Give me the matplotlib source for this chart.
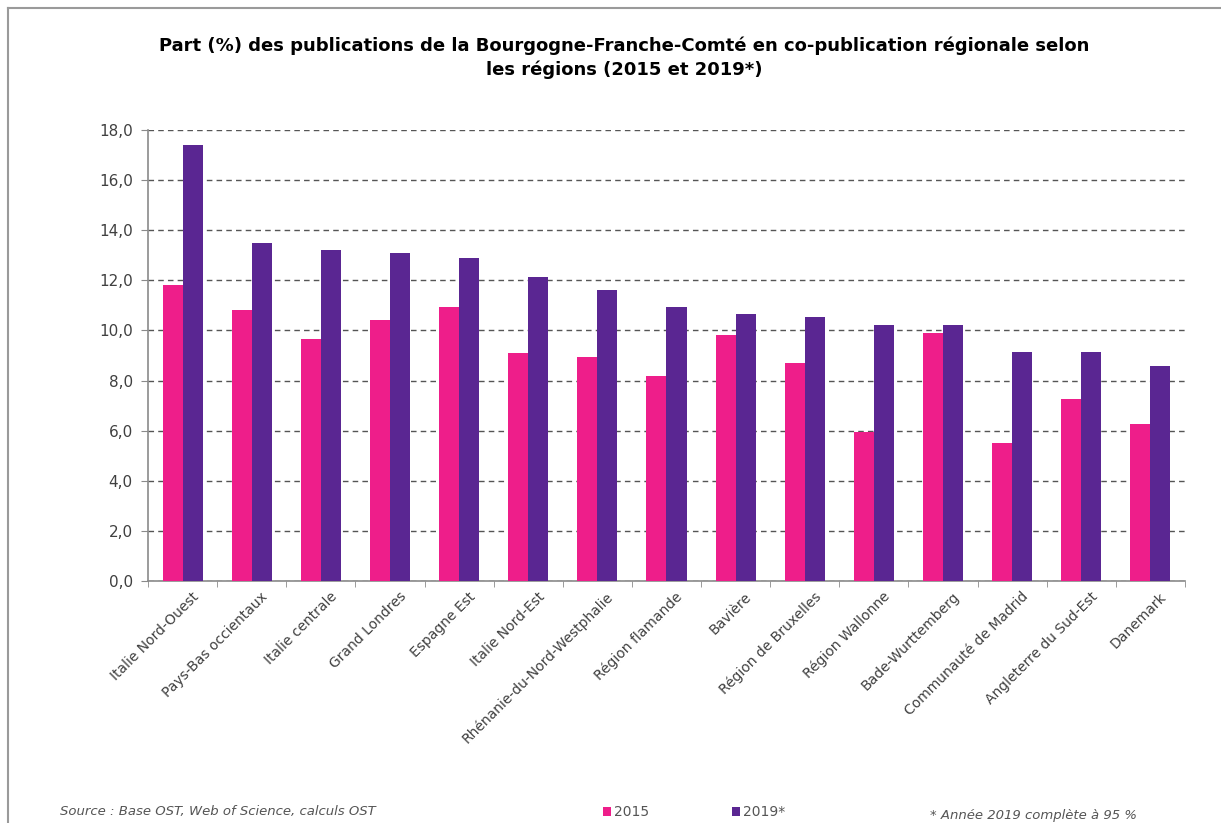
import numpy as np
import matplotlib.pyplot as plt
import matplotlib.transforms as mtransforms
from matplotlib.lines import Line2D

# data
regions = ["Italie Nord-Ouest", "Pays-Bas occientaux", "Italie centrale", "Grand Londres",
           "Espagne Est", "Italie Nord-Est", "Rhénanie-du-Nord-Westphalie", "Région flamande",
           "Bavière", "Région de Bruxelles", "Région Wallonne", "Bade-Wurttemberg",
           "Communauté de Madrid", "Angleterre du Sud-Est", "Danemark"]
val_2015 = [11.8, 10.8, 9.65, 10.4, 10.95, 9.1, 8.95, 8.2, 9.8, 8.7, 5.95, 9.9, 5.5, 7.25, 6.25]
val_2019 = [17.4, 13.5, 13.2, 13.1, 12.9, 12.15, 11.6, 10.95, 10.65, 10.55, 10.2, 10.2, 9.15, 9.15, 8.6]
yticks = np.arange(0, 18.1, 2)

pink = "#EE1E8A"
purple = "#5A2692"

fig = plt.figure(figsize=(12.21, 8.23), dpi=100)
ax = fig.add_axes([0.1212, 0.294, 0.8493, 0.548])

x = np.arange(len(regions))
w = 0.29
b1 = ax.bar(x - w/2, val_2015, w, color=pink, zorder=3, label="2015")
b2 = ax.bar(x + w/2, val_2019, w, color=purple, zorder=3, label="2019*")

ax.set_xlim(-0.5, len(regions) - 0.5)
ax.set_ylim(0, 18)
ax.set_yticks(yticks)
ax.set_yticklabels([("%.1f" % v).replace(".", ",") for v in yticks], fontsize=11, color="#404040")
ax.yaxis.grid(True, linestyle=(0, (4, 3)), color="#555555", linewidth=1, zorder=0)

for s in ["top", "right"]:
    ax.spines[s].set_visible(False)
for s in ["left", "bottom"]:
    ax.spines[s].set_color("#8a8a8a")
    ax.spines[s].set_linewidth(1.2)
ax.tick_params(axis="y", direction="out", length=5, color="#8a8a8a", pad=6)

ax.set_xticks(x)
ax.set_xticks(np.arange(-0.5, len(regions), 1), minor=True)
ax.tick_params(axis="x", which="major", length=0, pad=4)
ax.tick_params(axis="x", which="minor", length=4, direction="out", color="#8a8a8a")
ax.set_xticklabels(regions, rotation=45, ha="right", va="center",
                   rotation_mode="anchor", fontsize=10, color="#404040")
offset = mtransforms.ScaledTranslation(0.14, -0.08, fig.dpi_scale_trans)
for lab in ax.get_xticklabels():
    lab.set_transform(lab.get_transform() + offset)

fig.text(0.511, 0.93, "Part (%) des publications de la Bourgogne-Franche-Comté en co-publication régionale selon\nles régions (2015 et 2019*)",
         ha="center", va="center", fontsize=13, fontweight="bold", linespacing=1.4)

fig.text(60/1221, 1 - 812/823, "Source : Base OST, Web of Science, calculs OST",
         ha="left", va="center", fontsize=9.5, style="italic", color="#555555")
fig.text(930/1221, 1 - 815/823, "* Année 2019 complète à 95 %",
         ha="left", va="center", fontsize=9.5, style="italic", color="#555555")
fig.legend(handles=[b1, b2], labels=["2015", "2019*"], loc="center left",
           bbox_to_anchor=(590/1221, 1 - 812/823), ncol=2, frameon=False,
           handlelength=0.6, handleheight=0.6, handletextpad=0.2, columnspacing=6.0,
           fontsize=10, labelcolor="#555555")

# grey frame around the picture
fig.add_artist(Line2D([8/1221, 8/1221], [0, 1 - 8/823], transform=fig.transFigure, color="#9a9a9a", lw=1.5))
fig.add_artist(Line2D([8/1221, 1], [1 - 8/823, 1 - 8/823], transform=fig.transFigure, color="#9a9a9a", lw=1.5))

fig.savefig("out.png", dpi=100)
